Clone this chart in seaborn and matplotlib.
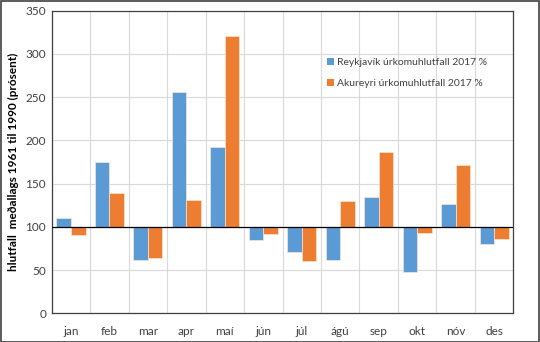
import matplotlib
matplotlib.use("Agg")
import matplotlib.pyplot as plt
from matplotlib.ticker import FixedLocator, MultipleLocator
from matplotlib.patches import Patch, Rectangle
import seaborn as sns
import pandas as pd

months = ["jan", "feb", "mar", "apr", "maí", "jún", "júl", "ágú", "sep", "okt", "nóv", "des"]
reykjavik = [110, 175, 62, 256, 192, 85, 71, 62, 134, 48, 126, 80]
akureyri = [90, 139, 64, 131, 321, 92, 60, 130, 187, 93, 172, 86]
series_names = ["Reykjavík úrkomuhlutfall 2017 %", "Akureyri úrkomuhlutfall 2017 %"]
baseline = 100
ylabel = "hlutfall  meðallags 1961 til 1990 (prósent)"

sns.set_theme(style="white")
plt.rcParams["font.family"] = ["Lato", "DejaVu Sans"]

df = pd.DataFrame({
    "month": months * 2,
    "value": reykjavik + akureyri,
    "series": [series_names[0]] * 12 + [series_names[1]] * 12,
})
df["height"] = df["value"] - baseline

colors = ["#5B9BD5", "#ED7D31"]

fig = plt.figure(figsize=(5.4, 3.42), dpi=100)
ax = fig.add_axes([0.0957, 0.084, 0.855, 0.885])

sns.barplot(data=df, x="month", y="height", hue="series", order=months,
            hue_order=series_names, palette=colors, saturation=1, width=0.76,
            bottom=baseline, edgecolor="#FBE5D6", linewidth=0.5, ax=ax,
            legend=False, zorder=3)

ax.set_ylim(0, 350)
ax.set_xlim(-0.5, 11.5)
ax.yaxis.set_major_locator(MultipleLocator(50))
ax.xaxis.set_minor_locator(FixedLocator([i + 0.5 for i in range(-1, 12)]))
ax.grid(True, axis="y", which="major", color="#D9D9D9", linewidth=0.8, zorder=0)
ax.grid(True, axis="x", which="minor", color="#D9D9D9", linewidth=0.8, zorder=0)
ax.grid(False, axis="x", which="major")
ax.set_axisbelow(True)
ax.axhline(baseline, color="black", linewidth=0.9, zorder=4)

ax.tick_params(axis="both", which="both", length=0, labelsize=8.5, colors="#404040")
ax.tick_params(axis="x", pad=9)
ax.tick_params(axis="y", pad=4)
ax.set_xlabel("")
ax.set_ylabel(ylabel, fontsize=8.5, fontweight="bold", color="black", labelpad=5)
for s in ax.spines.values():
    s.set_color("#404040")
    s.set_linewidth(0.9)

handles = [Patch(facecolor=c, edgecolor="none") for c in colors]
ax.legend(handles, series_names, loc="upper left", bbox_to_anchor=(0.575, 0.875),
          frameon=False, fontsize=7.5, handlelength=0.75, handleheight=0.75,
          handletextpad=0.3, labelspacing=1.1, labelcolor="#404040")

fig.patches.append(Rectangle((0.001, 0.001), 0.998, 0.997, transform=fig.transFigure,
                             fill=False, edgecolor="#404040", linewidth=1.2))

fig.savefig("out.png", dpi=100)
